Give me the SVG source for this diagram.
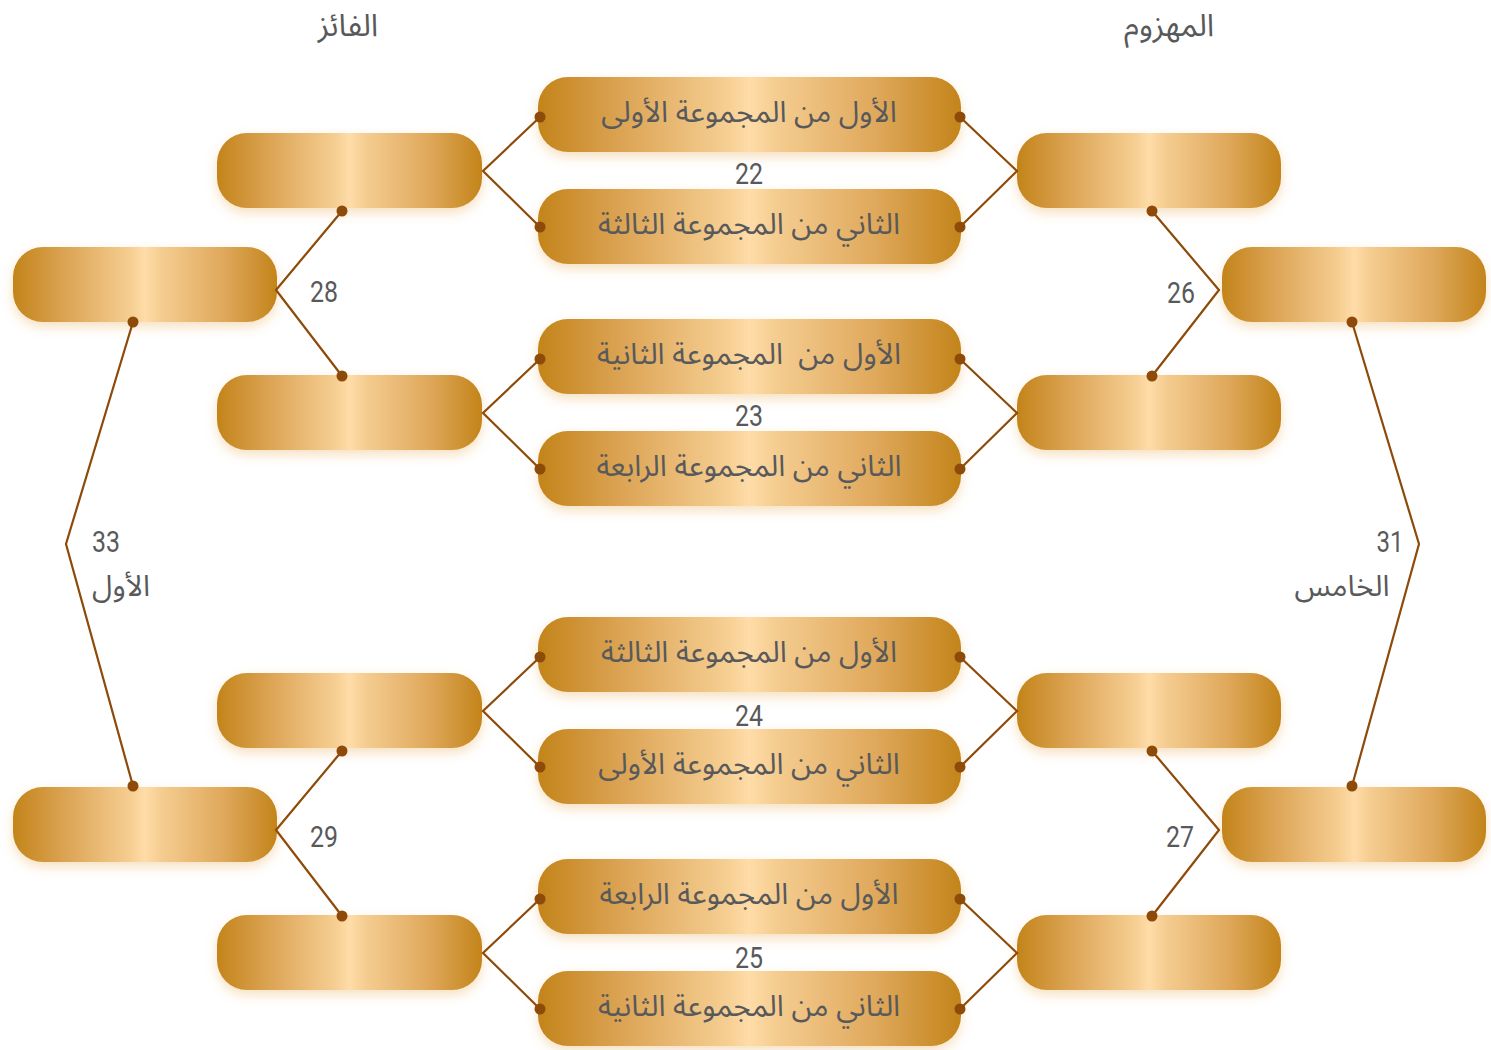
<svg xmlns="http://www.w3.org/2000/svg" width="1491" height="1050" viewBox="0 0 1491 1050">
<defs>
<linearGradient id="gold" x1="0" y1="0" x2="1" y2="0">
<stop offset="0" stop-color="#C3841A"/>
<stop offset="0.2" stop-color="#DCA455"/>
<stop offset="0.45" stop-color="#F6CF93"/>
<stop offset="0.5" stop-color="#FFDCA8"/>
<stop offset="0.56" stop-color="#F5CD91"/>
<stop offset="0.8" stop-color="#DFA85B"/>
<stop offset="1" stop-color="#C3841A"/>
</linearGradient>
<filter id="glow" x="-10%" y="-30%" width="120%" height="170%">
<feDropShadow dx="0" dy="5" stdDeviation="6" flood-color="#E8A54A" flood-opacity="0.35"/>
</filter>
</defs>
<style>
.box{fill:url(#gold);filter:url(#glow);}
.ar{font-family:"Noto Sans Arabic","DejaVu Sans",sans-serif;font-size:29.5px;fill:#58595B;text-anchor:middle;}
.hd{font-size:31px;}
.num{font-family:Roboto,"Liberation Sans",sans-serif;font-size:30px;fill:#58595B;text-anchor:middle;}
.ln{fill:none;stroke:#8E4A08;stroke-width:2.2;stroke-linejoin:miter;}
.dot{fill:#8E4A08;}
</style>
<rect width="1491" height="1050" fill="#FFFFFF"/>

<g id="headers">
<text class="ar hd" x="348" y="36">الفائز</text>
<text class="ar hd" x="1169" y="36">المهزوم</text>
</g>

<g id="c1"><rect class="box" x="538" y="77" width="423" height="75" rx="30"/><text class="ar" x="749" y="122">الأول من المجموعة الأولى</text></g>
<g id="c2"><rect class="box" x="538" y="189" width="423" height="75" rx="30"/><text class="ar" x="749" y="234">الثاني من المجموعة الثالثة</text></g>
<g id="c3"><rect class="box" x="538" y="319" width="423" height="75" rx="30"/><text class="ar" x="749" y="364" xml:space="preserve">الأول من  المجموعة الثانية</text></g>
<g id="c4"><rect class="box" x="538" y="431" width="423" height="75" rx="30"/><text class="ar" x="749" y="476">الثاني من المجموعة الرابعة</text></g>
<g id="c5"><rect class="box" x="538" y="617" width="423" height="75" rx="30"/><text class="ar" x="749" y="662">الأول من المجموعة الثالثة</text></g>
<g id="c6"><rect class="box" x="538" y="729" width="423" height="75" rx="30"/><text class="ar" x="749" y="774">الثاني من المجموعة الأولى</text></g>
<g id="c7"><rect class="box" x="538" y="859" width="423" height="75" rx="30"/><text class="ar" x="749" y="904">الأول من المجموعة الرابعة</text></g>
<g id="c8"><rect class="box" x="538" y="971" width="423" height="75" rx="30"/><text class="ar" x="749" y="1016">الثاني من المجموعة الثانية</text></g>

<g id="w1"><rect class="box" x="217" y="133" width="265" height="75" rx="30"/></g>
<g id="w2"><rect class="box" x="217" y="375" width="265" height="75" rx="30"/></g>
<g id="w3"><rect class="box" x="217" y="673" width="265" height="75" rx="30"/></g>
<g id="w4"><rect class="box" x="217" y="915" width="265" height="75" rx="30"/></g>
<g id="l1"><rect class="box" x="1017" y="133" width="264" height="75" rx="30"/></g>
<g id="l2"><rect class="box" x="1017" y="375" width="264" height="75" rx="30"/></g>
<g id="l3"><rect class="box" x="1017" y="673" width="264" height="75" rx="30"/></g>
<g id="l4"><rect class="box" x="1017" y="915" width="264" height="75" rx="30"/></g>
<g id="w5"><rect class="box" x="13" y="247" width="264" height="75" rx="30"/></g>
<g id="w6"><rect class="box" x="13" y="787" width="264" height="75" rx="30"/></g>
<g id="l5"><rect class="box" x="1222" y="247" width="264" height="75" rx="30"/></g>
<g id="l6"><rect class="box" x="1222" y="787" width="264" height="75" rx="30"/></g>

<g id="connectors">
<polyline class="ln" points="540,117 483,171 540,227"/>
<polyline class="ln" points="960,117 1017,171 960,227"/>
<polyline class="ln" points="540,359 483,413 540,469"/>
<polyline class="ln" points="960,359 1017,413 960,469"/>
<polyline class="ln" points="540,657 483,711 540,767"/>
<polyline class="ln" points="960,657 1017,711 960,767"/>
<polyline class="ln" points="540,899 483,953 540,1009"/>
<polyline class="ln" points="960,899 1017,953 960,1009"/>
<polyline class="ln" points="342,211 276,290 342,376"/>
<polyline class="ln" points="342,751 276,830 342,916"/>
<polyline class="ln" points="1152,211 1219,290 1152,376"/>
<polyline class="ln" points="1152,751 1219,830 1152,916"/>
<polyline class="ln" points="133,322 66,544 133,786"/>
<polyline class="ln" points="1352,322 1419,544 1352,786"/>
<g class="dot">
<circle cx="540" cy="117" r="5.5"/><circle cx="540" cy="227" r="5.5"/>
<circle cx="960" cy="117" r="5.5"/><circle cx="960" cy="227" r="5.5"/>
<circle cx="540" cy="359" r="5.5"/><circle cx="540" cy="469" r="5.5"/>
<circle cx="960" cy="359" r="5.5"/><circle cx="960" cy="469" r="5.5"/>
<circle cx="540" cy="657" r="5.5"/><circle cx="540" cy="767" r="5.5"/>
<circle cx="960" cy="657" r="5.5"/><circle cx="960" cy="767" r="5.5"/>
<circle cx="540" cy="899" r="5.5"/><circle cx="540" cy="1009" r="5.5"/>
<circle cx="960" cy="899" r="5.5"/><circle cx="960" cy="1009" r="5.5"/>
<circle cx="342" cy="211" r="5.5"/><circle cx="342" cy="376" r="5.5"/>
<circle cx="342" cy="751" r="5.5"/><circle cx="342" cy="916" r="5.5"/>
<circle cx="1152" cy="211" r="5.5"/><circle cx="1152" cy="376" r="5.5"/>
<circle cx="1152" cy="751" r="5.5"/><circle cx="1152" cy="916" r="5.5"/>
<circle cx="133" cy="322" r="5.5"/><circle cx="133" cy="786" r="5.5"/>
<circle cx="1352" cy="322" r="5.5"/><circle cx="1352" cy="786" r="5.5"/>
</g>
</g>

<g id="labels">
<text class="num" x="749" y="184" textLength="28" lengthAdjust="spacingAndGlyphs">22</text>
<text class="num" x="749" y="426" textLength="28" lengthAdjust="spacingAndGlyphs">23</text>
<text class="num" x="749" y="726" textLength="28" lengthAdjust="spacingAndGlyphs">24</text>
<text class="num" x="749" y="968" textLength="28" lengthAdjust="spacingAndGlyphs">25</text>
<text class="num" x="324" y="302" textLength="28" lengthAdjust="spacingAndGlyphs">28</text>
<text class="num" x="324" y="847" textLength="28" lengthAdjust="spacingAndGlyphs">29</text>
<text class="num" x="1181" y="303" textLength="28" lengthAdjust="spacingAndGlyphs">26</text>
<text class="num" x="1180" y="847" textLength="28" lengthAdjust="spacingAndGlyphs">27</text>
<text class="num" x="106" y="552" textLength="28" lengthAdjust="spacingAndGlyphs">33</text>
<text class="ar" x="121" y="596">الأول</text>
<text class="num" x="1390" y="552" textLength="27" lengthAdjust="spacingAndGlyphs">31</text>
<text class="ar" x="1342" y="596">الخامس</text>
</g>
</svg>
